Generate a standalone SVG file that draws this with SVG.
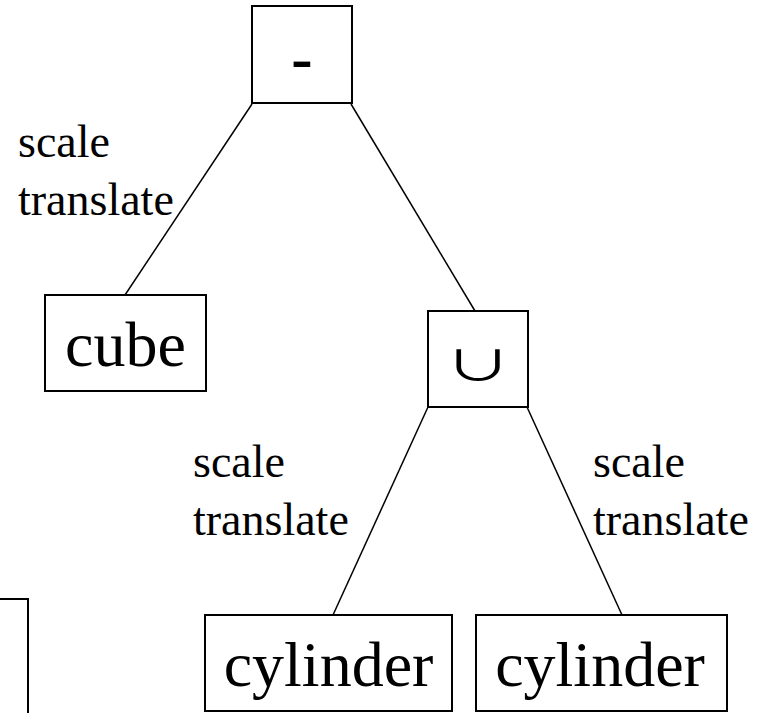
<svg xmlns="http://www.w3.org/2000/svg" width="776" height="713" viewBox="0 0 776 713">
  <style>
    .box { fill: #fff; stroke: #000; stroke-width: 2; }
    .edge { stroke: #000; stroke-width: 1.5; fill: none; }
    .node { font-family: "Liberation Serif", "Times New Roman", serif; font-size: 64px; fill: #000; text-anchor: middle; }
    .op { font-family: "Noto Sans CJK JP", "DejaVu Sans", sans-serif; font-size: 60px; fill: #000; text-anchor: middle; }
    .lbl { font-family: "Liberation Serif", "Times New Roman", serif; font-size: 46px; fill: #000; }
  </style>
  <rect width="776" height="713" fill="#fff"/>

  <!-- connectors -->
  <g id="connectors">
    <line class="edge" x1="252" y1="104" x2="125" y2="295"/>
    <line class="edge" x1="351" y1="104" x2="475" y2="311"/>
    <line class="edge" x1="428" y1="407" x2="333" y2="615"/>
    <line class="edge" x1="527" y1="407" x2="622" y2="615"/>
  </g>

  <!-- edge labels -->
  <g id="labels">
    <text class="lbl" x="18" y="157">scale</text>
    <text class="lbl" x="18" y="215">translate</text>
    <text class="lbl" x="193" y="477">scale</text>
    <text class="lbl" x="193" y="535">translate</text>
    <text class="lbl" x="593" y="477">scale</text>
    <text class="lbl" x="593" y="535">translate</text>
  </g>

  <g id="difference">
    <rect class="box" x="252" y="6" width="100" height="97"/>
    <text class="node" x="302" y="79" style="font-weight: bold;">-</text>
  </g>

  <g id="cube">
    <rect class="box" x="45" y="295" width="161" height="96"/>
    <text class="node" x="125.5" y="366">cube</text>
  </g>

  <g id="union">
    <rect class="box" x="428" y="311" width="100" height="96"/>
    <!-- union sign, widened and flattened to sit low in the box -->
    <text class="op" transform="translate(478,381) scale(1.12,0.7)">∪</text>
  </g>

  <g id="cylinder-1">
    <rect class="box" x="205" y="615" width="247" height="96"/>
    <text class="node" x="328.5" y="686">cylinder</text>
  </g>

  <g id="cylinder-2">
    <rect class="box" x="476" y="615" width="251" height="96"/>
    <text class="node" x="600" y="686">cylinder</text>
  </g>

  <g id="partial-node">
    <rect class="box" x="-10" y="599" width="38" height="200"/>
  </g>
</svg>
